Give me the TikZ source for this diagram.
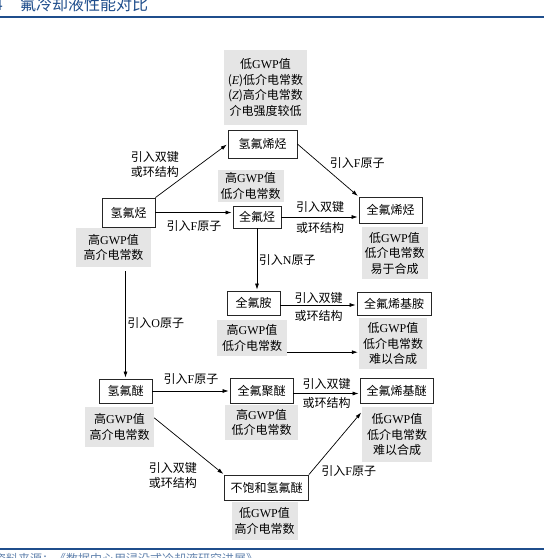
\documentclass[tikz,border=0pt]{standalone}
\usepackage{fontspec}
\setmainfont{Liberation Serif}
\newfontfamily\cjk{Noto Sans CJK SC}
\usepackage{xcolor}
\usetikzlibrary{arrows.meta, positioning}
\definecolor{titleblue}{HTML}{1F4E8C}
\newcommand{\lat}[1]{{\rmfamily #1}}

\begin{document}
\begin{tikzpicture}[
  x=1pt, y=-1pt,
  font=\cjk\fontsize{12}{15.5}\selectfont,
  box/.style={rectangle, draw=black!85, line width=0.8pt, fill=white, minimum height=24pt, inner xsep=6pt, inner ysep=2pt},
  info/.style={rectangle, fill=gray!20, align=center, inner xsep=3pt, inner ysep=2pt},
  lbl/.style={inner sep=1.5pt, align=center, font=\cjk\fontsize{12}{15}\selectfont},
  arrow/.style={-{Latex[length=6pt,width=4pt]}, line width=0.7pt, shorten >=1pt},
  rule/.style={titleblue, line width=1.6pt},
]
  \path[use as bounding box, fill=white] (0,0) rectangle (544,558);

  % heading and rules
  \node[anchor=base east, inner sep=0, text=titleblue, font=\cjk\fontsize{16}{16}\selectfont] (fig_no) at (3,10) {4};
  \node[anchor=base west, inner sep=0, text=titleblue, font=\cjk\fontsize{16}{16}\selectfont] (fig_title) at (20,10) {氟冷却液性能对比};
  \draw[rule] (0,17) -- (544,17);
  \draw[rule] (0,549) -- (544,549);
  \node[anchor=north west, inner sep=0, text=titleblue!70, font=\cjk\fontsize{12}{12}\selectfont] (fig_source) at (-6,553) {资料来源：《数据中心用浸没式冷却液研究进展》};

  % hydrofluorocarbon branch
  \node[info, minimum width=83pt, minimum height=75pt] (info_hfo) at (265.5,87.5) {低\lat{GWP}值\\(\lat{\itshape E})低介电常数\\(\lat{\itshape Z})高介电常数\\介电强度较低};
  \node[box, minimum width=69pt, minimum height=28pt] (hfo) at (262.5,144) {氢氟烯烃};
  \node[box, minimum width=53pt, minimum height=29pt] (hfc) at (128.5,212.5) {氢氟烃};
  \node[info, minimum width=75pt, minimum height=39pt] (info_hfc) at (113.5,247.5) {高\lat{GWP}值\\高介电常数};
  \node[info, minimum width=65pt, minimum height=32pt] (info_pfc) at (250.5,186) {高\lat{GWP}值\\低介电常数};
  \node[box, minimum width=48pt, minimum height=22pt] (pfc) at (257,217) {全氟烃};
  \node[box, minimum width=63pt, minimum height=26pt] (pfo) at (390.5,210) {全氟烯烃};
  \node[info, minimum width=65pt, minimum height=52pt] (info_pfo) at (394.5,253) {低\lat{GWP}值\\低介电常数\\易于合成};

  % perfluoroamine branch
  \node[box, minimum width=53pt] (pfa) at (253.5,303) {全氟胺};
  \node[info, minimum width=70pt, minimum height=36pt] (info_pfa) at (252,338) {高\lat{GWP}值\\低介电常数};
  \node[box, minimum width=74pt, minimum height=23pt] (pfea) at (394,303.5) {全氟烯基胺};
  \node[info, minimum width=68pt, minimum height=51pt] (info_pfea) at (393,343.5) {低\lat{GWP}值\\低介电常数\\难以合成};

  % hydrofluoroether branch
  \node[box, minimum width=53pt] (hfe) at (125.5,391) {氢氟醚};
  \node[info, minimum width=69pt, minimum height=40pt] (info_hfe) at (119.5,427) {高\lat{GWP}值\\高介电常数};
  \node[box, minimum width=63pt, minimum height=25pt] (pfpe) at (261.5,390.5) {全氟聚醚};
  \node[info, minimum width=73pt, minimum height=35pt] (info_pfpe) at (261.5,422.5) {高\lat{GWP}值\\低介电常数};
  \node[box, minimum width=73pt, minimum height=25pt] (pfee) at (396.5,390.5) {全氟烯基醚};
  \node[info, minimum width=70pt, minimum height=55pt] (info_pfee) at (397,434.5) {低\lat{GWP}值\\低介电常数\\难以合成};
  \node[box, minimum width=83pt, minimum height=25pt] (uhfe) at (266.5,487.5) {不饱和氢氟醚};
  \node[info, minimum width=65pt, minimum height=38pt] (info_uhfe) at (264.5,521) {低\lat{GWP}值\\高介电常数};

  \draw[arrow] (hfc.north east) -- node[lbl, pos=0.35, above left]{引入双键\\或环结构} (hfo.west);
  \draw[arrow] (hfo.east) -- node[lbl, above right]{引入\lat{F}原子} (pfo.north west);
  \draw[arrow] (hfc.east) -- node[lbl, below=6pt]{引入\lat{F}原子} (hfc.east -| pfc.west);
  \draw[arrow] (pfc.east) -- node[lbl, above=3pt]{引入双键} node[lbl, below=4pt]{或环结构} (pfc.east -| pfo.west);
  \draw[arrow] (pfc.south) -- node[lbl, right]{引入\lat{N}原子} (pfc.south |- pfa.north);
  \draw[arrow] ([yshift=-2pt]pfa.east) -- node[lbl, above]{引入双键} node[lbl, below=4pt]{或环结构} ([yshift=-2pt]pfa.east -| pfea.west);
  \draw[arrow] ([yshift=4pt]info_pfa.south east) -- ([yshift=4pt]info_pfa.south east -| info_pfea.west);
  \draw[arrow, shorten <=4pt] (hfe.north |- info_hfc.south) -- node[lbl, right]{引入\lat{O}原子} (hfe.north);
  \draw[arrow] (hfe.east) -- node[lbl, above=5pt]{引入\lat{F}原子} (hfe.east -| pfpe.west);
  \draw[arrow] ([yshift=-3pt]pfpe.east) -- node[lbl, above=2pt]{引入双键} node[lbl, below=2pt]{或环结构} ([yshift=-3pt]pfpe.east -| pfee.west);
  \draw[arrow] ([yshift=-11pt]info_hfe.north east) -- node[lbl, pos=0.75, below left, xshift=-8pt]{引入双键\\或环结构} (uhfe.north west);
  \draw[arrow] (uhfe.north east) -- node[lbl, pos=0.05, right, xshift=8pt]{引入\lat{F}原子} ([yshift=-5pt]info_pfee.north west);
\end{tikzpicture}
\end{document}
